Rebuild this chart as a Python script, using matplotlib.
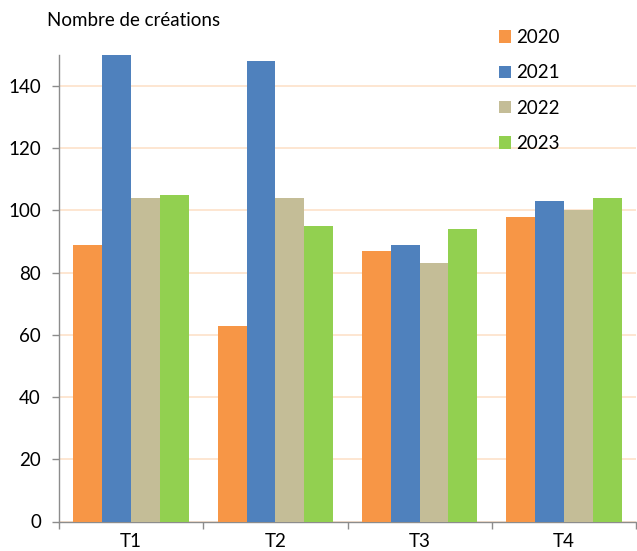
import matplotlib
matplotlib.use("Agg")
import matplotlib.pyplot as plt
import numpy as np

categories = ["T1", "T2", "T3", "T4"]
years = ["2020", "2021", "2022", "2023"]
values_2020 = [89, 63, 87, 98]
values_2021 = [150, 148, 89, 103]
values_2022 = [104, 104, 83, 100]
values_2023 = [105, 95, 94, 104]
colors = ["#F79646", "#4F81BD", "#C4BD97", "#92D050"]
yticks = [0, 20, 40, 60, 80, 100, 120, 140]

plt.rcParams["font.family"] = ["Lato", "DejaVu Sans"]
fs = 13.5

W, H = 637, 551
fig = plt.figure(figsize=(W / 100, H / 100), dpi=100)
ax = fig.add_axes([59 / W, (H - 521.5) / H, (636 - 59) / W, (521.5 - 55) / H])

x = np.arange(len(categories))
width = 0.2
series = [values_2020, values_2021, values_2022, values_2023]
handles = []
for i, (vals, col, lab) in enumerate(zip(series, colors, years)):
    b = ax.bar(x + (i - 1.5) * width, vals, width, color=col, label=lab,
               edgecolor="none", zorder=3)
    handles.append(b)

ax.set_xlim(-0.5, len(categories) - 0.5)
ax.set_ylim(0, 150)
ax.set_yticks(yticks)
ax.yaxis.grid(True, color="#FDE1CA", linewidth=1.2, zorder=0)
ax.set_axisbelow(True)

ax.set_xticks(x)
ax.set_xticklabels(categories)
ax.set_xticks(np.arange(-0.5, len(categories), 1.0), minor=True)
ax.tick_params(axis="x", which="major", length=0, pad=8, labelsize=fs)
ax.tick_params(axis="x", which="minor", length=5, width=1, color="#8C8C8C")
ax.tick_params(axis="y", length=5, width=1, color="#8C8C8C", pad=8, labelsize=fs)

for s in ["top", "right"]:
    ax.spines[s].set_visible(False)
for s in ["left", "bottom"]:
    ax.spines[s].set_color("#8C8C8C")
    ax.spines[s].set_linewidth(1)

fig.text(47 / W, 1 - 21 / H, "Nombre de créations", ha="left", va="center", fontsize=fs)

leg = fig.legend(handles=handles, labels=years, loc="upper left",
                 bbox_to_anchor=(499 / W, 1 - 29 / H), frameon=False,
                 fontsize=fs, handlelength=0.64, handleheight=0.64,
                 handletextpad=0.27, labelspacing=0.98, borderpad=0,
                 borderaxespad=0)

fig.savefig("out.png", dpi=100)
